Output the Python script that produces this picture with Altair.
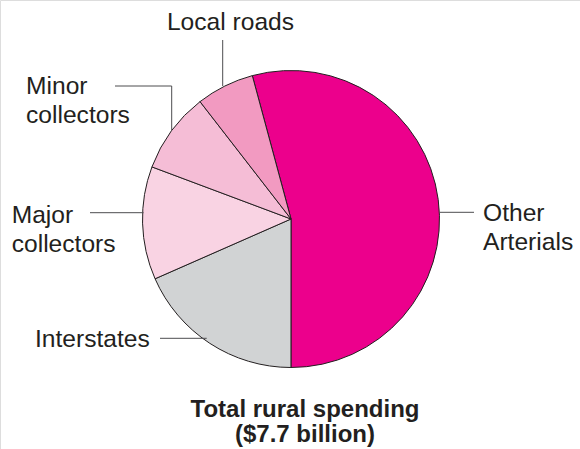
import math
import altair as alt
import pandas as pd

# ---- data ----
categories = ["Other Arterials", "Interstates", "Major collectors", "Minor collectors", "Local roads"]
shares = [54.2, 18.4, 12.3, 8.8, 6.3]  # percent of total rural spending
colors = ["#EC008C", "#D1D3D4", "#F9D3E3", "#F5BDD6", "#F29AC1"]
title_lines = ["Total rural spending", "($7.7 billion)"]

df = pd.DataFrame({"category": categories, "share": shares, "idx": list(range(len(categories)))})

CX, CY, R = 291, 219, 148.5
start = -15.1 * math.pi / 180

pie = alt.Chart(df).mark_arc(
    outerRadius=R, stroke="#231F20", strokeWidth=1
).encode(
    theta=alt.Theta("share:Q", stack=True,
                    scale=alt.Scale(range=[start, start + 2 * math.pi])),
    color=alt.Color("category:N", scale=alt.Scale(domain=categories, range=colors), legend=None),
    order=alt.Order("idx:Q"),
    x=alt.value(CX), y=alt.value(CY),
)

blank = alt.Data(values=[{"a": 1}])
FONT = "Liberation Sans"
TXT = "#231F20"
LINE = "#4D4D4F"


def label(lines, x, y, align="left"):
    return alt.Chart(blank).mark_text(
        text=lines, align=align, baseline="alphabetic", font=FONT,
        fontSize=24.6, lineHeight=29, color=TXT
    ).encode(x=alt.value(x), y=alt.value(y))


def rule(x1, y1, x2, y2):
    return alt.Chart(blank).mark_rule(color=LINE, strokeWidth=1).encode(
        x=alt.value(x1), y=alt.value(y1), x2=alt.value(x2), y2=alt.value(y2)
    )


def title_line(txt, y):
    return alt.Chart(blank).mark_text(
        text=txt, align="center", baseline="alphabetic", font=FONT,
        fontSize=24, fontWeight="bold", color=TXT
    ).encode(x=alt.value(305), y=alt.value(y))


layers = [
    pie,
    # Local roads
    label(["Local roads"], 230.5, 30, align="center"),
    rule(222.7, 40, 222.7, 86),
    # Minor collectors
    label(["Minor", "collectors"], 26, 94),
    rule(115, 86, 171.7, 86),
    rule(171.7, 86, 171.7, 130),
    # Major collectors
    label(["Major", "collectors"], 11.7, 223),
    rule(90, 212.7, 143.5, 212.7),
    # Interstates
    label(["Interstates"], 35, 346.5),
    rule(160, 338.3, 206.7, 338.3),
    # Other Arterials
    label(["Other", "Arterials"], 483, 221),
    rule(440, 212.3, 474, 212.3),
    # Title
    title_line(title_lines[0], 417),
    title_line(title_lines[1], 442),
]

chart = alt.layer(*layers).properties(
    width=580, height=449, padding=0, autosize=alt.AutoSizeParams(type="none")
).configure_view(stroke=None).configure(background="white")

chart.save("out.html", embed_options={"renderer": "svg", "actions": False})
